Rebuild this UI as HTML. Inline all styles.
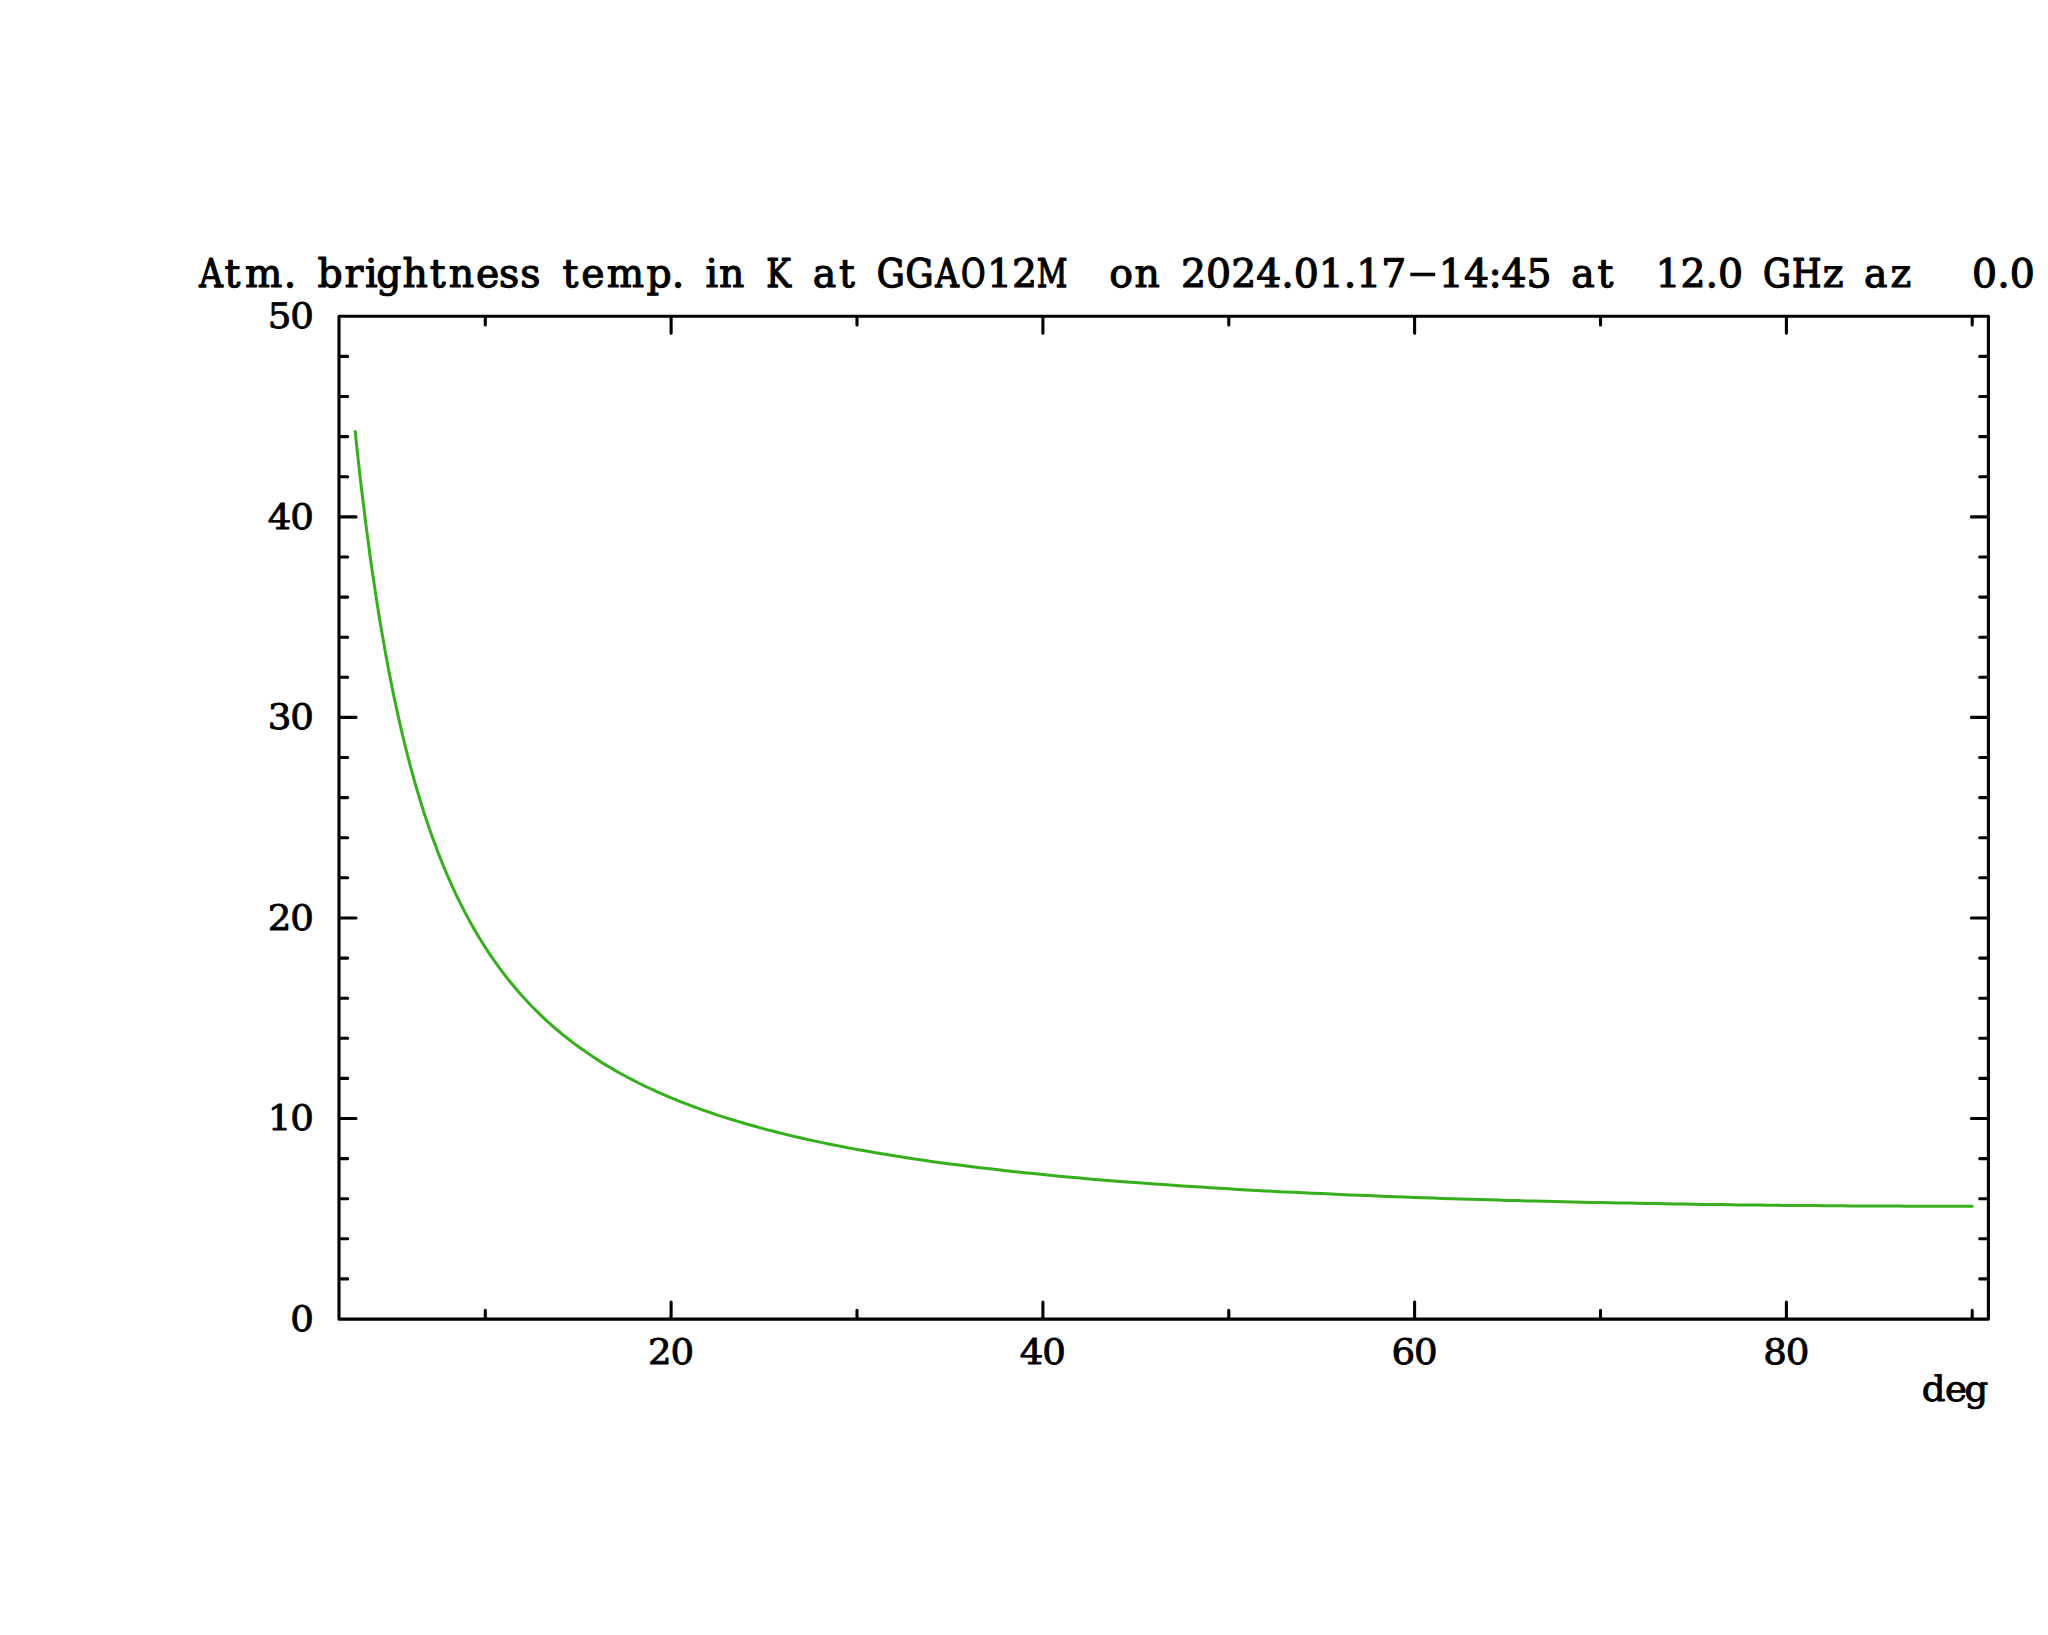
<!DOCTYPE html>
<html lang="en"><head><meta charset="utf-8"><title>Atm. brightness temp. in K at GGAO12M  on 2024.01.17-14:45 at  12.0 GHz az   0.0</title>
<style>
html,body{margin:0;padding:0;background:#fff}
body{width:2048px;height:1635px;overflow:hidden}
svg{display:block}
text{font-family:"DejaVu Serif","Liberation Serif",serif;text-rendering:geometricPrecision;fill:#000;stroke:#000;stroke-linejoin:round;text-anchor:middle}
.t{font-size:39.4px;stroke-width:1.15}
.tc{font-size:39.4px;stroke-width:1.35}
.l{font-size:35.1px;stroke-width:0.85}
.th{font-size:39.4px;stroke-width:0.5}
.ax{stroke:#000;stroke-width:3.1;stroke-linecap:round;stroke-linejoin:round;fill:none}
.cv{stroke:#35b01c;stroke-width:3.0;stroke-linecap:round;stroke-linejoin:round;fill:none}
</style></head>
<body>
<svg width="2048" height="1635" viewBox="0 0 2048 1635">
<rect width="2048" height="1635" fill="#fff"/>
<path class="cv" d="M355.2 431.4 L357.0 448.9 L358.9 465.8 L360.7 482.1 L362.6 497.8 L364.5 513.0 L366.3 527.7 L368.2 541.8 L370.0 555.5 L371.9 568.7 L373.8 581.4 L375.6 593.7 L377.5 605.7 L379.3 617.2 L381.2 628.4 L383.1 639.3 L384.9 649.7 L386.8 659.9 L388.6 669.8 L390.5 679.4 L392.3 688.6 L394.2 697.7 L396.1 706.4 L397.9 714.9 L399.8 723.2 L401.6 731.2 L403.5 739.0 L405.4 746.6 L407.2 754.0 L409.1 761.2 L410.9 768.1 L412.8 775.0 L414.6 781.6 L416.5 788.1 L418.4 794.4 L420.2 800.5 L422.1 806.5 L423.9 812.4 L425.8 818.1 L427.7 823.6 L429.5 829.1 L431.4 834.4 L433.2 839.5 L435.1 844.6 L437.0 849.6 L438.8 854.4 L440.7 859.1 L442.5 863.7 L444.4 868.3 L446.2 872.7 L448.1 877.0 L450.0 881.2 L451.8 885.4 L453.7 889.4 L455.5 893.4 L457.4 897.3 L459.3 901.1 L461.1 904.9 L463.0 908.5 L464.8 912.1 L466.7 915.6 L468.6 919.1 L470.4 922.5 L472.3 925.8 L474.1 929.0 L476.0 932.2 L477.8 935.4 L479.7 938.5 L481.6 941.5 L483.4 944.4 L485.3 947.4 L489.9 954.4 L494.6 961.2 L499.2 967.6 L503.9 973.8 L508.5 979.8 L513.2 985.5 L517.8 991.0 L522.5 996.2 L527.1 1001.3 L531.7 1006.2 L536.4 1010.9 L541.0 1015.4 L545.7 1019.8 L550.3 1024.0 L555.0 1028.1 L559.6 1032.0 L564.3 1035.8 L568.9 1039.5 L573.6 1043.1 L578.2 1046.5 L582.9 1049.8 L587.5 1053.1 L592.2 1056.2 L596.8 1059.2 L601.4 1062.2 L606.1 1065.1 L610.7 1067.8 L615.4 1070.6 L620.0 1073.2 L624.7 1075.7 L629.3 1078.2 L634.0 1080.6 L638.6 1083.0 L643.3 1085.3 L647.9 1087.5 L652.6 1089.7 L657.2 1091.8 L661.9 1093.9 L666.5 1095.9 L671.1 1097.8 L675.8 1099.7 L680.4 1101.6 L685.1 1103.4 L689.7 1105.2 L694.4 1107.0 L699.0 1108.6 L703.7 1110.3 L708.3 1111.9 L713.0 1113.5 L717.6 1115.1 L722.3 1116.6 L726.9 1118.1 L731.6 1119.5 L736.2 1120.9 L740.8 1122.3 L745.5 1123.7 L750.1 1125.0 L754.8 1126.3 L759.4 1127.6 L764.1 1128.9 L768.7 1130.1 L773.4 1131.3 L778.0 1132.5 L782.7 1133.6 L787.3 1134.8 L792.0 1135.9 L796.6 1137.0 L801.3 1138.0 L805.9 1139.1 L810.5 1140.1 L815.2 1141.1 L819.8 1142.1 L824.5 1143.1 L829.1 1144.0 L833.8 1145.0 L838.4 1145.9 L843.1 1146.8 L847.7 1147.7 L852.4 1148.6 L857.0 1149.4 L866.3 1151.1 L875.6 1152.7 L884.9 1154.3 L894.2 1155.8 L903.5 1157.3 L912.8 1158.7 L922.1 1160.1 L931.4 1161.4 L940.7 1162.7 L950.0 1163.9 L959.2 1165.1 L968.5 1166.3 L977.8 1167.5 L987.1 1168.6 L996.4 1169.6 L1005.7 1170.7 L1015.0 1171.7 L1024.3 1172.7 L1033.6 1173.6 L1042.9 1174.6 L1052.2 1175.5 L1061.5 1176.4 L1070.8 1177.2 L1080.1 1178.1 L1089.4 1178.9 L1098.6 1179.7 L1107.9 1180.4 L1117.2 1181.2 L1126.5 1181.9 L1135.8 1182.6 L1145.1 1183.3 L1154.4 1184.0 L1163.7 1184.6 L1173.0 1185.3 L1182.3 1185.9 L1191.6 1186.5 L1200.9 1187.1 L1210.2 1187.7 L1219.5 1188.3 L1228.8 1188.8 L1238.0 1189.4 L1247.3 1189.9 L1256.6 1190.4 L1265.9 1190.9 L1275.2 1191.4 L1284.5 1191.9 L1293.8 1192.3 L1303.1 1192.8 L1312.4 1193.2 L1321.7 1193.6 L1331.0 1194.1 L1340.3 1194.5 L1349.6 1194.9 L1358.9 1195.3 L1368.2 1195.6 L1377.4 1196.0 L1386.7 1196.4 L1396.0 1196.7 L1405.3 1197.1 L1414.6 1197.4 L1423.9 1197.7 L1433.2 1198.1 L1442.5 1198.4 L1451.8 1198.7 L1461.1 1199.0 L1470.4 1199.3 L1479.7 1199.5 L1489.0 1199.8 L1498.3 1200.1 L1507.6 1200.4 L1516.9 1200.6 L1526.1 1200.9 L1535.4 1201.1 L1544.7 1201.3 L1554.0 1201.6 L1563.3 1201.8 L1572.6 1202.0 L1581.9 1202.2 L1591.2 1202.4 L1600.5 1202.6 L1609.8 1202.8 L1619.1 1203.0 L1628.4 1203.1 L1637.7 1203.3 L1647.0 1203.5 L1656.3 1203.6 L1665.5 1203.8 L1674.8 1204.0 L1684.1 1204.1 L1693.4 1204.2 L1702.7 1204.4 L1712.0 1204.5 L1721.3 1204.6 L1730.6 1204.8 L1739.9 1204.9 L1749.2 1205.0 L1758.5 1205.1 L1767.8 1205.2 L1777.1 1205.3 L1786.4 1205.4 L1795.7 1205.5 L1804.9 1205.5 L1814.2 1205.6 L1823.5 1205.7 L1832.8 1205.8 L1842.1 1205.8 L1851.4 1205.9 L1860.7 1205.9 L1870.0 1206.0 L1879.3 1206.0 L1888.6 1206.1 L1897.9 1206.1 L1907.2 1206.2 L1916.5 1206.2 L1925.8 1206.2 L1935.1 1206.2 L1944.3 1206.2 L1953.6 1206.3 L1962.9 1206.3 L1972.2 1206.3"/>
<path class="ax" d="M339.0 316.3H1988.4V1319.1H339.0ZM485.3 1319.1v-8.7M485.3 316.3v8.7M671.1 1319.1v-17.0M671.1 316.3v17.0M857.0 1319.1v-8.7M857.0 316.3v8.7M1042.9 1319.1v-17.0M1042.9 316.3v17.0M1228.8 1319.1v-8.7M1228.8 316.3v8.7M1414.6 1319.1v-17.0M1414.6 316.3v17.0M1600.5 1319.1v-8.7M1600.5 316.3v8.7M1786.4 1319.1v-17.0M1786.4 316.3v17.0M1972.2 1319.1v-8.7M1972.2 316.3v8.7M339.0 1319.1h17.0M1988.4 1319.1h-17.0M339.0 1278.9h8.7M1988.4 1278.9h-8.7M339.0 1238.8h8.7M1988.4 1238.8h-8.7M339.0 1198.7h8.7M1988.4 1198.7h-8.7M339.0 1158.6h8.7M1988.4 1158.6h-8.7M339.0 1118.5h17.0M1988.4 1118.5h-17.0M339.0 1078.4h8.7M1988.4 1078.4h-8.7M339.0 1038.3h8.7M1988.4 1038.3h-8.7M339.0 998.2h8.7M1988.4 998.2h-8.7M339.0 958.1h8.7M1988.4 958.1h-8.7M339.0 918.0h17.0M1988.4 918.0h-17.0M339.0 877.8h8.7M1988.4 877.8h-8.7M339.0 837.7h8.7M1988.4 837.7h-8.7M339.0 797.6h8.7M1988.4 797.6h-8.7M339.0 757.5h8.7M1988.4 757.5h-8.7M339.0 717.4h17.0M1988.4 717.4h-17.0M339.0 677.3h8.7M1988.4 677.3h-8.7M339.0 637.2h8.7M1988.4 637.2h-8.7M339.0 597.1h8.7M1988.4 597.1h-8.7M339.0 557.0h8.7M1988.4 557.0h-8.7M339.0 516.9h17.0M1988.4 516.9h-17.0M339.0 476.7h8.7M1988.4 476.7h-8.7M339.0 436.6h8.7M1988.4 436.6h-8.7M339.0 396.5h8.7M1988.4 396.5h-8.7M339.0 356.4h8.7M1988.4 356.4h-8.7M339.0 316.3h17.0M1988.4 316.3h-17.0"/>
<g transform="translate(0,-0.45)">
<g><text class="tc" transform="scale(0.83,1)" x="254.3" y="287.8">A</text><text class="t" x="232.4 263.7 290.0" y="287.8">tm.</text></g>
<g><text class="t" x="330.0 353.8 371.3 388.8 415.1 437.6 461.4 487.7 509.0 530.3" y="287.8">brightness</text></g>
<g><text class="t" x="570.3 592.8 625.4 659.2 677.9" y="287.8">temp.</text></g>
<g><text class="t" x="711.7 731.8" y="287.8">in</text></g>
<g><text class="tc" transform="scale(0.84,1)" x="927.0" y="287.8">K</text></g>
<g><text class="t" x="824.4 846.9" y="287.8">at</text></g>
<g><text class="tc" transform="scale(0.89,1)" x="1000.8" y="287.8">G</text><text class="tc" transform="scale(0.89,1)" x="1033.2" y="287.8">G</text><text class="tc" transform="scale(0.83,1)" x="1141.0" y="287.8">A</text><text class="tc" transform="scale(0.76,1)" x="1280.7" y="287.8">O</text><text class="t" x="999.6 1024.6" y="287.8">12</text><text class="tc" transform="scale(0.76,1)" x="1384.4" y="287.8">M</text></g>
<g><text class="t" x="1121.0 1147.3" y="287.8">on</text></g>
<g><text class="t" x="1193.6 1218.6 1243.7 1268.7 1287.5 1306.2 1331.3 1350.1 1368.8 1393.9" y="287.8">2024.01.17</text><text class="th" transform="scale(2.4,1)" x="592.8" y="285.2">-</text><text class="t" x="1451.4 1476.5 1495.2 1514.0 1539.0" y="287.8">14:45</text></g>
<g><text class="t" x="1582.9 1605.4" y="287.8">at</text></g>
<g><text class="t" x="1668.0 1693.0 1711.8 1730.5" y="287.8">12.0</text></g>
<g><text class="tc" transform="scale(0.89,1)" x="1996.5" y="287.8">G</text><text class="tc" transform="scale(0.86,1)" x="2101.0" y="287.8">H</text><text class="t" x="1833.2" y="287.8">z</text></g>
<g><text class="t" x="1875.7 1900.8" y="287.8">az</text></g>
<g><text class="t" x="1984.6 2003.4 2022.2" y="287.8">0.0</text></g>
</g>
<g><text class="l" transform="scale(1.06,1)" x="263.8 284.9" y="328.0">50</text></g>
<g><text class="l" transform="scale(1.06,1)" x="263.8 284.9" y="528.6">40</text></g>
<g><text class="l" transform="scale(1.06,1)" x="263.8 284.9" y="729.1">30</text></g>
<g><text class="l" transform="scale(1.06,1)" x="263.8 284.9" y="929.7">20</text></g>
<g><text class="l" transform="scale(1.06,1)" x="263.8 284.9" y="1130.2">10</text></g>
<g><text class="l" transform="scale(1.06,1)" x="284.9" y="1330.8">0</text></g>
<g><text class="l" transform="scale(1.06,1)" x="622.6 643.7" y="1363.6">20</text></g>
<g><text class="l" transform="scale(1.06,1)" x="973.3 994.4" y="1363.6">40</text></g>
<g><text class="l" transform="scale(1.06,1)" x="1324.0 1345.1" y="1363.6">60</text></g>
<g><text class="l" transform="scale(1.06,1)" x="1674.7 1695.8" y="1363.6">80</text></g>
<g><text class="l" transform="scale(1.06,1)" x="1824.1 1845.2 1864.5" y="1401.4">deg</text></g>
</svg>
</body></html>
